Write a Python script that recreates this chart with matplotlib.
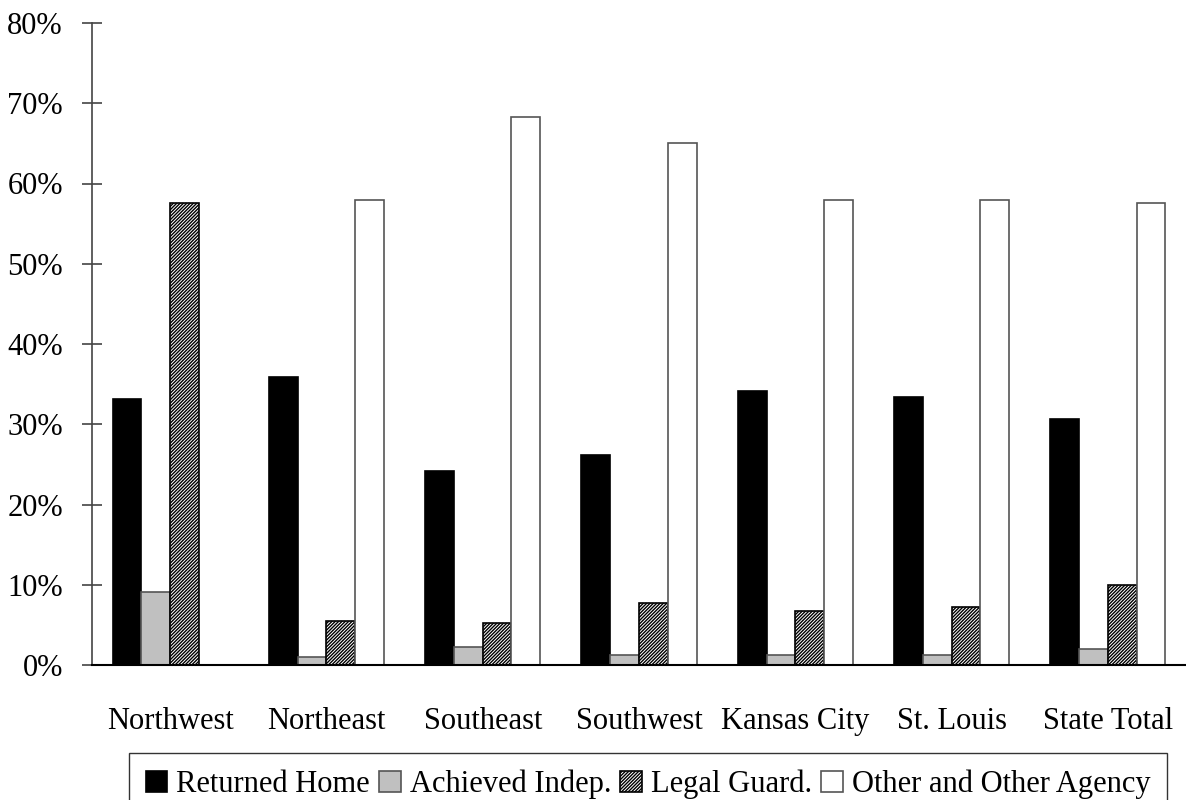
import matplotlib
matplotlib.use('Agg')
import matplotlib.pyplot as plt
import numpy as np

# data (percent)
regions = ['Northwest', 'Northeast', 'Southeast', 'Southwest',
           'Kansas City', 'St. Louis', 'State Total']
returned_home = [33.1, 35.9, 24.2, 26.2, 34.2, 33.4, 30.7]
achieved_indep = [9.1, 1.0, 2.2, 1.2, 1.2, 1.3, 2.0]
legal_guard = [57.6, 5.5, 5.2, 7.7, 6.7, 7.2, 10.0]
other_agency = [0.0, 57.9, 68.3, 65.0, 57.9, 57.9, 57.6]
series_names = ['Returned Home', 'Achieved Indep.', 'Legal Guard.',
                'Other and Other Agency']
yticks = [0, 10, 20, 30, 40, 50, 60, 70, 80]

plt.rcParams['font.family'] = ['Liberation Serif', 'DejaVu Serif']
plt.rcParams['hatch.linewidth'] = 1.0
FS = 22

fig = plt.figure(figsize=(11.86, 8), dpi=100)
ax = fig.add_axes([92 / 1186, 1 - 665 / 800, 1 - 92 / 1186, (665 - 23) / 800])

x = np.arange(len(regions))
w = 0.184
styles = [
    dict(color='black', edgecolor='black'),
    dict(color='#c0c0c0', edgecolor='#555555'),
    dict(color='white', edgecolor='black', hatch='//////////'),
    dict(color='white', edgecolor='#555555'),
]
data = [returned_home, achieved_indep, legal_guard, other_agency]
for k, (vals, st, name) in enumerate(zip(data, styles, series_names)):
    ax.bar(x + (k - 1.5) * w, vals, width=w, linewidth=1.2, label=name, **st)

ax.set_xlim(-0.5, len(regions) - 0.5)
ax.set_ylim(0, 80)
ax.set_yticks(yticks)
ax.set_yticklabels([f'{t}%' for t in yticks], fontsize=FS)
ax.set_xticks(x)
ax.set_xticklabels(regions, fontsize=FS)
ax.tick_params(axis='x', length=0, pad=30)
ax.tick_params(axis='y', direction='inout', length=14, width=1.2,
               color='#444444', pad=14)

for s in ['top', 'right']:
    ax.spines[s].set_visible(False)
ax.spines['left'].set_color('#444444')
ax.spines['left'].set_linewidth(1.2)
ax.spines['bottom'].set_linewidth(1.5)

leg = fig.legend(loc='upper center', bbox_to_anchor=(0.5465, 1 - 753 / 800),
                 ncol=4, fontsize=FS, frameon=True, fancybox=False,
                 handlelength=0.7, handleheight=0.7, handletextpad=0.3,
                 columnspacing=0.3, borderpad=0.55, borderaxespad=0)
leg.get_frame().set_edgecolor('black')
leg.get_frame().set_linewidth(1.0)

fig.savefig('out.png', dpi=100)
